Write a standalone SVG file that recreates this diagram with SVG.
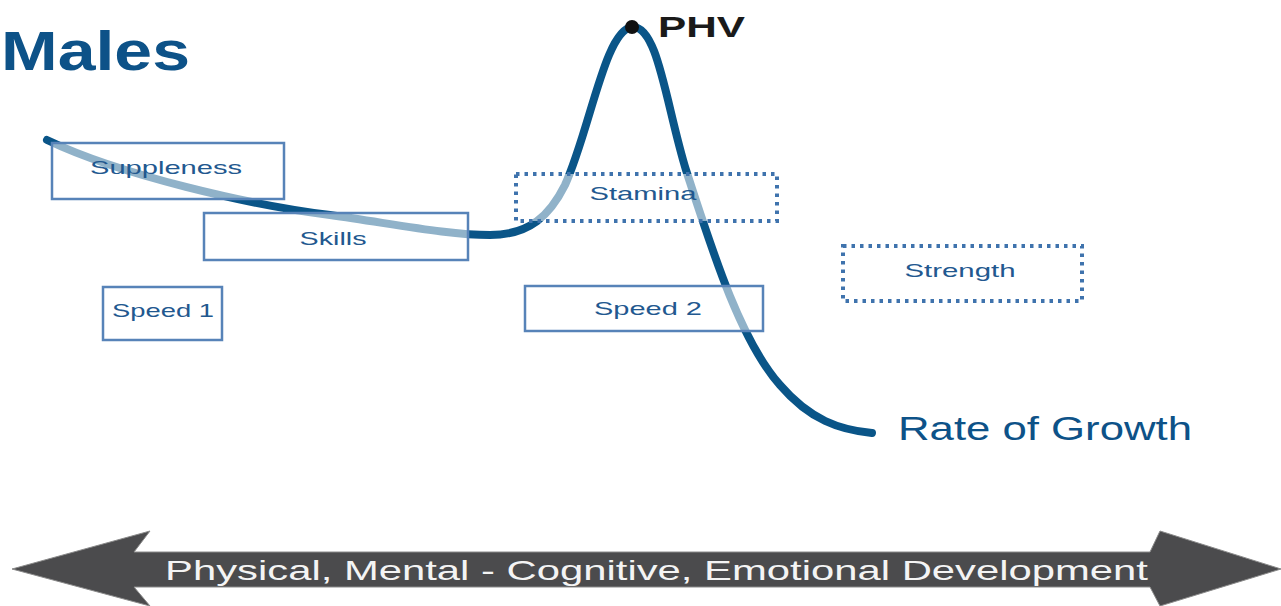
<svg xmlns="http://www.w3.org/2000/svg" width="1281" height="606" viewBox="0 0 1281 606">
<style>
.box{fill:#ffffff;fill-opacity:0.55;stroke:#5783b8;stroke-width:2.5}
.dot{fill:#ffffff;fill-opacity:0.55;stroke:#3f73ad;stroke-width:4;stroke-dasharray:3.5 5}
.lbl{font-family:"Liberation Sans",Arial,sans-serif;font-size:19px;fill:#22588f;text-anchor:middle}
</style>
<rect width="1281" height="606" fill="#ffffff"/>
<text x="1" y="70" font-family="Liberation Sans,Arial,sans-serif" font-weight="bold" font-size="56" fill="#0d5288" textLength="189" lengthAdjust="spacingAndGlyphs">Males</text>
<g id="connectors">
<path d="M47,140 C120,175 250,205 330,215 C400,225 450,235 490,235 C530,235 550,215 565,185 C590,130 605,30 632,27 C658,25 666,105 686,170 C712,250 740,340 780,385 C810,420 840,430 872,433" fill="none" stroke="#0a5588" stroke-width="8" stroke-linecap="round"/>
</g>
<g id="phv">
<circle cx="632" cy="27" r="7" fill="#111"/>
<text x="658" y="37" font-family="Liberation Sans,Arial,sans-serif" font-weight="bold" font-size="30" fill="#1a1a1a" textLength="87" lengthAdjust="spacingAndGlyphs">PHV</text>
</g>
<g id="suppleness"><rect class="box" x="52" y="143" width="232" height="56"/><text class="lbl" x="166" y="174" textLength="152" lengthAdjust="spacingAndGlyphs">Suppleness</text></g>
<g id="skills"><rect class="box" x="204" y="213" width="264" height="47"/><text class="lbl" x="333" y="245" textLength="67" lengthAdjust="spacingAndGlyphs">Skills</text></g>
<g id="speed1"><rect class="box" x="103" y="287" width="119" height="53"/><text class="lbl" x="163" y="317" textLength="102" lengthAdjust="spacingAndGlyphs">Speed 1</text></g>
<g id="stamina"><rect class="dot" x="516" y="174" width="261" height="47"/><text class="lbl" x="643" y="200" textLength="107" lengthAdjust="spacingAndGlyphs">Stamina</text></g>
<g id="speed2"><rect class="box" x="525" y="286" width="238" height="45"/><text class="lbl" x="648" y="315" textLength="108" lengthAdjust="spacingAndGlyphs">Speed 2</text></g>
<g id="strength"><rect class="dot" x="843" y="246" width="239" height="55"/><text class="lbl" x="960" y="277" textLength="111" lengthAdjust="spacingAndGlyphs">Strength</text></g>
<g id="rate"><text x="898" y="440" font-family="Liberation Sans,Arial,sans-serif" font-size="34" fill="#0d5288" textLength="294" lengthAdjust="spacingAndGlyphs">Rate of Growth</text></g>
<g id="dev-arrow">
<polygon points="12,569 150,531 134,552 1150,552 1160,531 1281,569 1160,606 1150,587 134,587 150,606" fill="#4b4b4d" stroke="#8a8a8a" stroke-width="1"/>
<text x="165" y="580" font-family="Liberation Sans,Arial,sans-serif" font-size="28" fill="#f4f4f4" textLength="983" lengthAdjust="spacingAndGlyphs">Physical, Mental - Cognitive, Emotional Development</text>
</g>
</svg>
